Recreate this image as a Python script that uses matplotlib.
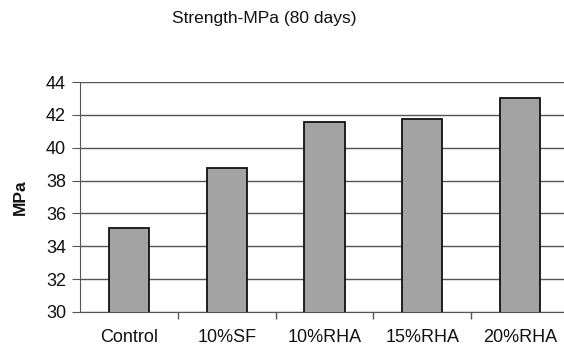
import matplotlib.pyplot as plt
import numpy as np

plt.rcParams['font.family'] = ['Liberation Sans', 'DejaVu Sans']

categories = ["Control", "10%SF", "10%RHA", "15%RHA", "20%RHA"]
strength = [35.1, 38.75, 41.55, 41.75, 43.05]
yticks = [30, 32, 34, 36, 38, 40, 42, 44]

fig = plt.figure(figsize=(5.64, 3.54), dpi=100)
# plot area runs past the right edge like the cropped original
ax = fig.add_axes([80 / 564, 1 - 312 / 354, 489 / 564, 230 / 354])

x = np.arange(len(categories))
ax.bar(x, strength, width=0.41, color="#a3a3a3", edgecolor="#111111", linewidth=1.3, zorder=3)

ax.set_xlim(-0.5, len(categories) - 0.5)
ax.set_ylim(30, 44)
ax.set_yticks(yticks)
ax.yaxis.grid(True, color="#555555", linewidth=1.0, zorder=0)

ax.set_xticks(x)
ax.set_xticklabels(categories, fontsize=13, color="#111111")
ax.tick_params(axis="x", length=0, pad=12)
ax.set_xticks(np.arange(len(categories) - 1) + 0.5, minor=True)
ax.tick_params(axis="x", which="minor", length=5, color="#555555", width=1)
ax.tick_params(axis="y", length=6, color="#555555", labelsize=13, labelcolor="#111111", pad=4)

for side in ["top", "right"]:
    ax.spines[side].set_visible(False)
ax.spines["left"].set_color("#555555")
ax.spines["bottom"].set_color("#555555")

fig.text(20 / 564, 1 - 197 / 354, "MPa", rotation=90, fontsize=12.5, fontweight="bold",
         ha="center", va="center", color="#111111")
fig.text(264 / 564, 1 - 18 / 354, "Strength-MPa (80 days)", fontsize=12.5,
         ha="center", va="center", color="#111111")

fig.savefig("out.png", dpi=100)
